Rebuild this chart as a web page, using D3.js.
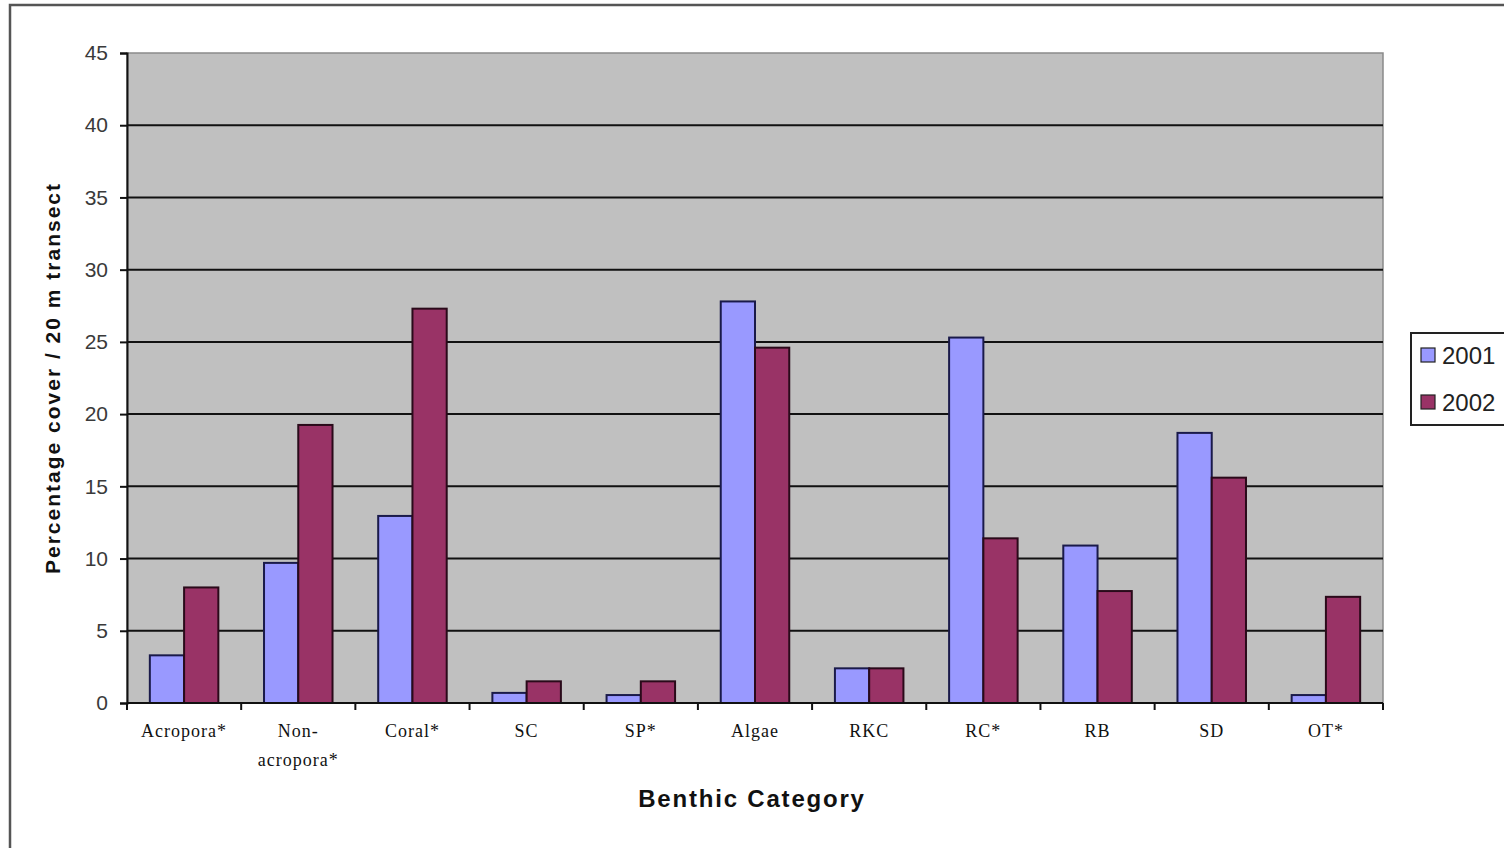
<!DOCTYPE html>
<html>
<head>
<meta charset="utf-8">
<script src="https://cdn.jsdelivr.net/npm/d3@7"></script>
<style>
  html, body { margin: 0; padding: 0; background: #fff; }
  svg { display: block; }
</style>
</head>
<body>
<svg id="chart" width="1504" height="848"></svg>
<script>
// Benthic cover per category, two survey years
const categories = ["Acropora*", "Non-\nacropora*", "Coral*", "SC", "SP*", "Algae", "RKC", "RC*", "RB", "SD", "OT*"];
const years = ["2001", "2002"];
const values2001 = [3.3, 9.7, 12.95, 0.7, 0.55, 27.8, 2.4, 25.3, 10.9, 18.7, 0.55];
const values2002 = [8.0, 19.25, 27.3, 1.5, 1.5, 24.6, 2.4, 11.4, 7.75, 15.6, 7.35];
const yTicks = [0, 5, 10, 15, 20, 25, 30, 35, 40, 45];

const seriesValues = [values2001, values2002];
const colors = ["#9999ff", "#993366"];

const svg = d3.select("#chart");
const W = 1504, H = 848;
const plot = { left: 127, right: 1383, top: 53, bottom: 703 };

// Outer chart frame
svg.append("rect")
  .attr("x", 10).attr("y", 5)
  .attr("width", W + 20).attr("height", H + 20)
  .attr("fill", "#fff")
  .attr("stroke", "#555").attr("stroke-width", 2.5);

const x = d3.scaleBand()
  .domain(categories)
  .range([plot.left, plot.right])
  .paddingInner(0).paddingOuter(0);

const bandW = x.bandwidth();
const groupPad = 0.2;
const xs = d3.scaleBand()
  .domain(years)
  .range([bandW * groupPad, bandW * (1 - groupPad)]);

const y = d3.scaleLinear().domain([0, 45]).range([plot.bottom, plot.top]);

// Plot area background
svg.append("rect")
  .attr("x", plot.left).attr("y", plot.top)
  .attr("width", plot.right - plot.left).attr("height", plot.bottom - plot.top)
  .attr("fill", "#c0c0c0")
  .attr("stroke", "#8a8a8a").attr("stroke-width", 1.5);

// Horizontal gridlines
svg.append("g")
  .selectAll("line")
  .data(yTicks.filter(t => t > 0 && t < 45))
  .join("line")
  .attr("x1", plot.left).attr("x2", plot.right)
  .attr("y1", d => y(d)).attr("y2", d => y(d))
  .attr("stroke", "#111").attr("stroke-width", 2);

// Bars
const groups = svg.append("g")
  .selectAll("g")
  .data(categories)
  .join("g")
  .attr("transform", d => `translate(${x(d)},0)`);

groups.selectAll("rect")
  .data((d, i) => years.map((yr, s) => ({ yr, s, v: seriesValues[s][i] })))
  .join("rect")
  .attr("x", d => xs(d.yr))
  .attr("width", xs.bandwidth())
  .attr("y", d => y(d.v))
  .attr("height", d => y(0) - y(d.v))
  .attr("fill", d => colors[d.s])
  .attr("stroke", d => d.s === 0 ? "#1a1a4a" : "#2a0a1a")
  .attr("stroke-width", 2);

// Y axis
const yAxis = d3.axisLeft(y).tickValues(yTicks).tickSize(7).tickPadding(12);
const gy = svg.append("g")
  .attr("transform", `translate(${plot.left},0)`)
  .call(yAxis);
gy.select(".domain").attr("stroke", "#111").attr("stroke-width", 2);
gy.selectAll(".tick line").attr("stroke", "#111").attr("stroke-width", 2);
gy.selectAll(".tick text")
  .attr("fill", "#3a3a3a")
  .style("font-family", "Liberation Sans, Arial, sans-serif")
  .style("font-size", "21px");

// X axis: tick marks on band boundaries
const gx = svg.append("g");
gx.append("line")
  .attr("x1", plot.left).attr("x2", plot.right)
  .attr("y1", plot.bottom).attr("y2", plot.bottom)
  .attr("stroke", "#111").attr("stroke-width", 2);
gx.selectAll("line.tk")
  .data(categories.map(c => x(c)).concat([plot.right]))
  .join("line")
  .attr("class", "tk")
  .attr("x1", d => d).attr("x2", d => d)
  .attr("y1", plot.bottom).attr("y2", plot.bottom + 7)
  .attr("stroke", "#111").attr("stroke-width", 2);

// Category labels
const labels = svg.append("g")
  .selectAll("text")
  .data(categories)
  .join("text")
  .attr("x", d => x(d) + bandW / 2)
  .attr("y", 737)
  .attr("text-anchor", "middle")
  .attr("fill", "#111")
  .style("font-family", "Liberation Serif, Times New Roman, serif")
  .style("font-size", "18px")
  .style("letter-spacing", "1px");
labels.each(function(d) {
  const lines = d.split("\n");
  d3.select(this).selectAll("tspan")
    .data(lines)
    .join("tspan")
    .attr("x", x(d) + bandW / 2)
    .attr("dy", (l, i) => i === 0 ? 0 : 29)
    .text(l => l);
});

// Axis titles
svg.append("text")
  .attr("transform", "translate(60,378) rotate(-90)")
  .attr("text-anchor", "middle")
  .attr("fill", "#111")
  .style("font-family", "Liberation Sans, Arial, sans-serif")
  .style("font-weight", "bold")
  .style("font-size", "21px")
  .style("letter-spacing", "2px")
  .text("Percentage cover / 20 m transect");

svg.append("text")
  .attr("x", 752).attr("y", 807)
  .attr("text-anchor", "middle")
  .attr("fill", "#111")
  .style("font-family", "Liberation Sans, Arial, sans-serif")
  .style("font-weight", "bold")
  .style("font-size", "24px")
  .style("letter-spacing", "1.8px")
  .text("Benthic Category");

// Legend
const legend = svg.append("g").attr("transform", "translate(1411,333)");
legend.append("rect")
  .attr("x", 0).attr("y", 0).attr("width", 120).attr("height", 92)
  .attr("fill", "#fff").attr("stroke", "#222").attr("stroke-width", 2);
const items = legend.selectAll("g")
  .data(years)
  .join("g")
  .attr("transform", (d, i) => `translate(10,${22 + i * 47})`);
items.append("rect")
  .attr("x", 0).attr("y", -7).attr("width", 14).attr("height", 14)
  .attr("fill", (d, i) => colors[i])
  .attr("stroke", "#222").attr("stroke-width", 1.2);
items.append("text")
  .attr("x", 21).attr("y", 9)
  .attr("fill", "#222")
  .style("font-family", "Liberation Sans, Arial, sans-serif")
  .style("font-size", "24px")
  .text(d => d);
</script>
</body>
</html>
